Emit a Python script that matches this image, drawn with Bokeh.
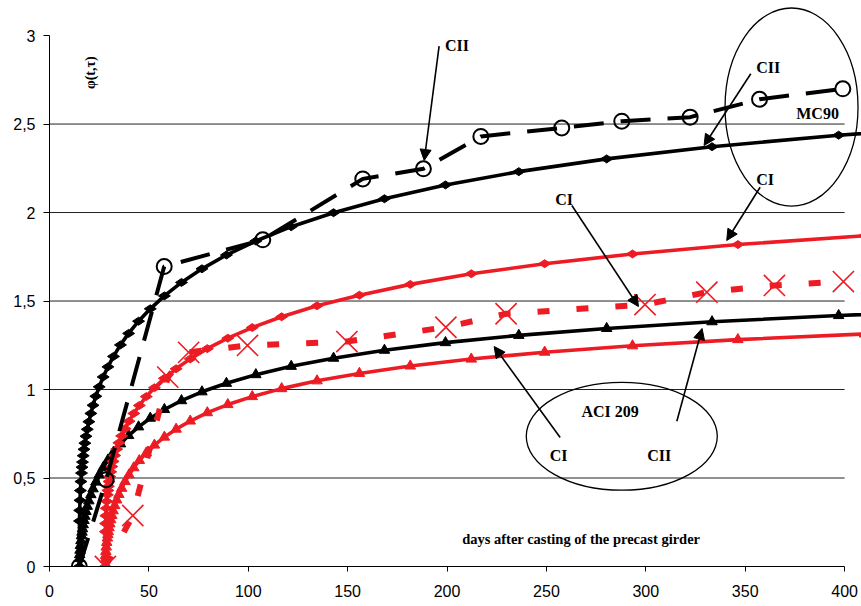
from math import pi
from bokeh.plotting import figure
from bokeh.models import Range1d, FixedTicker, Arrow, NormalHead, Label
from bokeh.embed import file_html
from bokeh.resources import INLINE

RED = "#ED1C24"
BLACK = "#000000"

# ---------------- data ----------------
X_TICKS = [0, 50, 100, 150, 200, 250, 300, 350, 400]
Y_TICKS = [0, 0.5, 1, 1.5, 2, 2.5, 3]
Y_LABELS = ["0", "0,5", "1", "1,5", "2", "2,5", "3"]
GRID_Y = [0.5, 1, 1.5, 2, 2.5]

# MC90, CII (black solid, diamonds)
t_mc90_cii = [15, 15.1, 15.2, 15.35, 15.55, 15.8, 16.1, 16.35, 16.6, 16.95, 17.35, 17.8, 18.35, 19,
              19.8, 20.8, 21.9, 23.3, 25, 27, 29.4, 32.2, 35.7, 39.8, 44.8, 50.7, 57.8, 66.4, 76.7,
              89, 103.8, 121.6, 142.9, 168.5, 199.2, 236.1, 280.3, 333.3, 397, 473]
phi_mc90_cii = [0, 0.257, 0.317, 0.374, 0.429, 0.480, 0.528, 0.561, 0.590, 0.626, 0.662, 0.697, 0.736,
                0.775, 0.818, 0.865, 0.911, 0.962, 1.015, 1.071, 1.128, 1.187, 1.252, 1.317, 1.386,
                1.456, 1.529, 1.605, 1.682, 1.760, 1.839, 1.920, 1.999, 2.078, 2.156, 2.231, 2.303,
                2.372, 2.437, 2.497]

# MC90, CI (red solid, diamonds)
t_mc90_ci = [28, 28.1, 28.2, 28.35, 28.55, 28.8, 29.1, 29.35, 29.6, 29.95, 30.35, 30.8, 31.35, 32,
             32.8, 33.8, 34.9, 36.3, 38, 40, 42.4, 45.2, 48.7, 52.8, 57.8, 63.7, 70.8, 79.4, 89.7,
             102, 116.8, 134.6, 155.9, 181.5, 212.2, 249.1, 293.3, 346.3, 410, 486]
phi_mc90_ci = [0, 0.197, 0.243, 0.287, 0.329, 0.368, 0.405, 0.430, 0.453, 0.480, 0.508, 0.535, 0.565,
               0.594, 0.627, 0.663, 0.699, 0.738, 0.779, 0.821, 0.865, 0.910, 0.960, 1.010, 1.063,
               1.117, 1.173, 1.231, 1.290, 1.350, 1.411, 1.473, 1.533, 1.594, 1.654, 1.711, 1.766,
               1.819, 1.869, 1.915]

# ACI 209, CII (black solid, triangles)
t_aci_cii = t_mc90_cii
phi_aci_cii = [0, 0.045, 0.067, 0.092, 0.119, 0.146, 0.174, 0.194, 0.213, 0.236, 0.260, 0.284, 0.311,
               0.340, 0.371, 0.406, 0.439, 0.477, 0.518, 0.559, 0.602, 0.646, 0.693, 0.740, 0.789,
               0.838, 0.887, 0.937, 0.987, 1.035, 1.084, 1.131, 1.177, 1.222, 1.265, 1.306, 1.345,
               1.383, 1.418, 1.451]

# ACI 209, CI (red solid, triangles)
t_aci_ci = t_mc90_ci
phi_aci_ci = [0, 0.041, 0.062, 0.085, 0.110, 0.136, 0.161, 0.180, 0.197, 0.219, 0.241, 0.264, 0.288,
              0.315, 0.344, 0.376, 0.407, 0.442, 0.480, 0.518, 0.558, 0.599, 0.642, 0.686, 0.731,
              0.776, 0.822, 0.869, 0.915, 0.960, 1.005, 1.049, 1.091, 1.133, 1.172, 1.211, 1.247,
              1.282, 1.314, 1.345]

# CII (black dashed, circles)
t_cii_dash = [15, 28.5, 57.7, 107.3, 157.6, 188.1, 217, 257.7, 287.9, 322.3, 357.2, 399.1]
phi_cii_dash = [0, 0.49, 1.695, 1.846, 2.19, 2.247, 2.43, 2.478, 2.516, 2.539, 2.64, 2.699]

# CI (red dashed, crosses)
t_ci_dash = [28.1, 41.9, 59.5, 70, 99.6, 149.6, 199.4, 229.7, 299.6, 330.7, 364.7, 399.4]
phi_ci_dash = [0, 0.288, 1.07, 1.21, 1.249, 1.271, 1.352, 1.428, 1.48, 1.55, 1.588, 1.61]

# ---------------- figure ----------------
p = figure(width=861, height=606, output_backend="svg", toolbar_location=None,
           x_range=Range1d(0, 408.5), y_range=Range1d(0, 3.198),
           min_border_left=49, min_border_right=0, min_border_top=0, min_border_bottom=40)
p.outline_line_color = None
p.xgrid.visible = False
p.ygrid.visible = False
p.background_fill_color = "white"
p.border_fill_color = "white"

# horizontal gridlines from 0 to 400
p.segment(x0=[X_TICKS[0]] * len(GRID_Y), x1=[X_TICKS[-1]] * len(GRID_Y), y0=GRID_Y, y1=GRID_Y,
          line_color="#222222", line_width=1)

# axes
for ax in (p.xaxis[0], p.yaxis[0]):
    ax.axis_line_color = "black"
    ax.axis_line_width = 1
    ax.major_tick_line_color = "black"
    ax.major_tick_in = 0
    ax.major_tick_out = 5
    ax.minor_tick_line_color = None
    ax.major_label_text_font = "Liberation Sans"
    ax.major_label_text_font_size = "16px"
    ax.major_label_text_color = "black"
p.xaxis.ticker = FixedTicker(ticks=X_TICKS)
p.xaxis.bounds = (X_TICKS[0], X_TICKS[-1])
p.xaxis.major_label_standoff = 13
p.yaxis.ticker = FixedTicker(ticks=Y_TICKS)
p.yaxis.major_label_overrides = {v: s for v, s in zip(Y_TICKS, Y_LABELS)}
p.yaxis.bounds = (Y_TICKS[0], Y_TICKS[-1])
p.yaxis.major_tick_out = 6
p.yaxis.major_label_standoff = 8

# solid model curves
def solid(t, phi, color, marker, size, angle=0.0):
    p.line(t, phi, line_color=color, line_width=3.6)
    p.scatter(t, phi, marker=marker, size=size, angle=angle, fill_color=color, line_color=color,
              line_width=1)

solid(t_aci_ci, phi_aci_ci, RED, "triangle", 10.5)
solid(t_aci_cii, phi_aci_cii, BLACK, "triangle", 10.5)
solid(t_mc90_ci, phi_mc90_ci, RED, "diamond", 12, pi / 2)
solid(t_mc90_cii, phi_mc90_cii, BLACK, "diamond", 12, pi / 2)

# dashed curves
p.line(t_ci_dash, phi_ci_dash, line_color=RED, line_width=6, line_dash="12 27")
p.scatter(t_ci_dash, phi_ci_dash, marker="x", size=30, line_color=RED, line_width=1.6)
p.line(t_cii_dash, phi_cii_dash, line_color=BLACK, line_width=4, line_dash="30 17")
p.scatter(t_cii_dash, phi_cii_dash, marker="circle", size=15, fill_color=None,
          line_color=BLACK, line_width=2)

# ellipses
p.ellipse(x=[373.3, 287.9], y=[2.596, 0.736], width=[66.9, 96.1], height=[1.119, 0.61],
          fill_color=None, line_color="black", line_width=1.3)

# arrows
arrows = [
    (196.0, 2.94, 188.5, 2.294),
    (352.8, 2.784, 329.3, 2.379),
    (357.5, 2.143, 340.7, 1.842),
    (262.8, 2.04, 296.3, 1.469),
    (256.9, 0.729, 223.7, 1.243),
    (315.6, 0.821, 328.3, 1.345),
]
for x0, y0, x1, y1 in arrows:
    p.add_layout(Arrow(end=NormalHead(size=11, fill_color="black", line_color="black"),
                       x_start=x0, y_start=y0, x_end=x1, y_end=y1,
                       line_color="black", line_width=1.6))

# labels
def lab(text, x, y, align="left", size="16px", angle=0.0):
    p.add_layout(Label(x=x, y=y, text=text, text_font="Liberation Serif", text_font_style="bold",
                       text_font_size=size, text_align=align, text_baseline="middle",
                       text_color="black", angle=angle))

lab("CII", 199.0, 2.943)
lab("CII", 355.5, 2.82)
lab("MC90", 386.4, 2.562, align="center")
lab("CI", 355.5, 2.189)
lab("CI", 254.4, 2.073)
lab("ACI 209", 282.0, 0.876, align="center")
lab("CI", 256.1, 0.627, align="center")
lab("CII", 306.7, 0.627, align="center")
lab("days after casting of the precast girder", 267.5, 0.155, align="center", size="14.5px")
lab("φ(t,τ)", 20.5, 2.79, align="center", size="14px", angle=pi / 2)

open("out.html", "w").write(file_html(p, INLINE))
